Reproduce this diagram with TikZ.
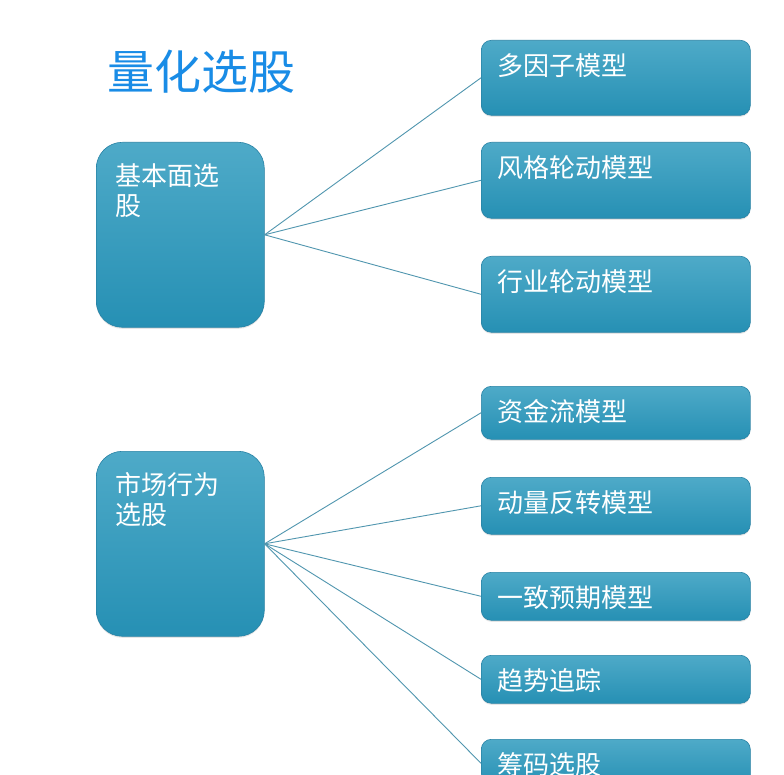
\documentclass[tikz,border=0pt]{standalone}
\usepackage{fontspec}
\newfontfamily\cjk{Noto Sans CJK SC}
\usepackage{tikz}
\usetikzlibrary{shadows}

\definecolor{boxtop}{RGB}{78,170,200}
\definecolor{boxbot}{RGB}{38,144,180}
\definecolor{boxedge}{RGB}{40,130,165}
\definecolor{linkcol}{RGB}{80,150,175}
\definecolor{titleblue}{RGB}{25,140,230}

\tikzset{
    tile/.style={draw=boxedge, line width=0.6pt, top color=boxtop, bottom color=boxbot,
        text=white, font=\cjk\fontsize{26}{30}\selectfont, align=left,
        drop shadow={shadow xshift=0pt, shadow yshift=-1.5pt, opacity=0.2}},
    group/.style={tile, anchor=north west, rounded corners=26pt,
        text width=130pt, inner xsep=19pt, inner ysep=20pt, text height=23pt, text depth=122pt},
    model/.style={tile, anchor=north west, rounded corners=10pt,
        text width=237pt, inner xsep=16pt, inner ysep=13pt, text height=22pt},
    link/.style={linkcol, line width=0.9pt}
}

\begin{document}
\begin{tikzpicture}[x=1pt, y=-1pt]
    \useasboundingbox (0,0) rectangle (784,775);
    \fill[white] (0,0) rectangle (784,775);
    \clip (0,0) rectangle (784,775);

    % Title
    \node[anchor=west, inner sep=0pt, text=titleblue, font=\cjk\fontsize{47}{51}\selectfont]
        (title) at (107,72) {量化选股};

    % Two groups
    \node[group] (fund)  at (96,142) {基本面选\\股};
    \node[group] (behav) at (96,451) {市场行为\\选股};

    % Models
    \node[model, text depth=27pt] (multi)     at (481,40)  {多因子模型};
    \node[model, text depth=28pt] (style)     at (481,142) {风格轮动模型};
    \node[model, text depth=28pt] (sector)    at (481,256) {行业轮动模型};
    \node[model, text depth=5pt]  (flow)      at (481,386) {资金流模型};
    \node[model, text depth=9pt]  (momentum)  at (481,477) {动量反转模型};
    \node[model, text depth=0pt]  (consensus) at (481,572) {一致预期模型};
    \node[model, text depth=0pt]  (trend)     at (481,655) {趋势追踪};
    \node[model, text depth=0pt]  (chips)     at (481,739) {筹码选股};

    % Links
    \foreach \m in {multi,style,sector}
        \draw[link] (fund.east) -- (\m.west);
    \foreach \m in {flow,momentum,consensus,trend,chips}
        \draw[link] (behav.east) -- (\m.west);
\end{tikzpicture}
\end{document}
